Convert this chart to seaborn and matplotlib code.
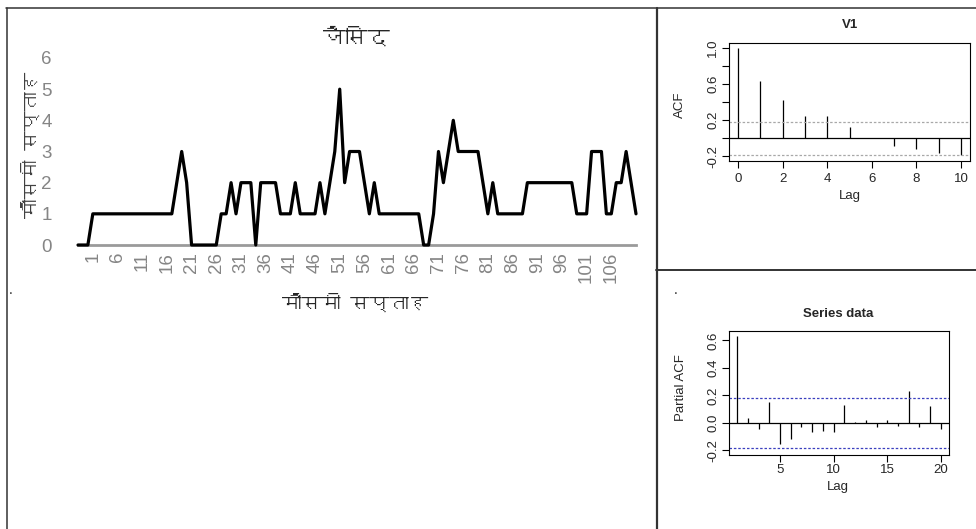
import numpy as np
import matplotlib
matplotlib.use("Agg")
import matplotlib.pyplot as plt
from matplotlib.lines import Line2D
from matplotlib import font_manager
from matplotlib.ft2font import FT2Font
import seaborn as sns

# Weekly jassid counts
jassid = [0, 0, 0,
          1, 1, 1, 1, 1, 1, 1, 1, 1, 1, 1, 1, 1, 1, 1, 1, 1,
          2, 3, 2,
          0, 0, 0, 0, 0, 0,
          1, 1, 2, 1, 2, 2, 2, 0, 2, 2, 2, 2, 1, 1, 1, 2, 1, 1, 1, 1, 2, 1,
          2, 3, 5, 2, 3, 3, 3, 2, 1, 2,
          1, 1, 1, 1, 1, 1, 1, 1, 1,
          0, 0, 1, 3, 2, 3, 4, 3, 3, 3, 3, 3, 2, 1, 2,
          1, 1, 1, 1, 1, 1,
          2, 2, 2, 2, 2, 2, 2, 2, 2, 2,
          1, 1, 1, 3, 3, 3, 1, 1, 2, 2, 3, 2, 1]
first_week = -2
week_ticks = list(range(1, 107, 5))
y_ticks = [0, 1, 2, 3, 4, 5, 6]

acf_lags = [0, 1, 2, 3, 4, 5, 6, 7, 8, 9, 10]
acf_vals = [1.0, 0.63, 0.425, 0.25, 0.245, 0.125, 0.0, -0.085, -0.117, -0.158, -0.187]
pacf_lags = list(range(1, 21))
pacf_vals = [0.63, 0.036, -0.044, 0.153, -0.15, -0.116, -0.03, -0.065, -0.056, -0.063,
             0.128, 0.007, 0.02, -0.029, 0.022, -0.019, 0.235, -0.03, 0.121, -0.044]
conf_limit = 0.183

title_text = "जैसिद"
axis_text = "मौसमी सप्ताह"


def devanagari_family():
    seen = set()
    for fe in font_manager.fontManager.ttflist:
        if fe.fname in seen:
            continue
        seen.add(fe.fname)
        try:
            cmap = FT2Font(fe.fname).get_charmap()
        except Exception:
            continue
        if 0x091C in cmap and 0x0948 in cmap and 0x0938 in cmap:
            return fe.name
    return "DejaVu Sans"


sns.set_theme(style="white")
hindi = devanagari_family()
plt.rcParams["font.family"] = ["Liberation Sans", "DejaVu Sans"]

W, H = 976, 529
fig = plt.figure(figsize=(W / 100, H / 100), dpi=100)
fig.patch.set_facecolor("white")


def rect(x0, y0, x1, y1):
    return [x0 / W, 1 - y1 / H, (x1 - x0) / W, (y1 - y0) / H]


def ftext(x, y, s, **kw):
    fig.text(x / W, 1 - y / H, s, **kw)


# ---- main weekly line chart ----
weeks = np.arange(len(jassid)) + first_week
ax = fig.add_axes(rect(78, 58, 636, 245))
sns.lineplot(x=weeks, y=jassid, ax=ax, color="black", linewidth=2.3,
             estimator=None, sort=False, zorder=3, clip_on=False)
ax.set_xlim(weeks[0], weeks[-1])
ax.set_ylim(0, 6)
for side in ["top", "right", "left"]:
    ax.spines[side].set_visible(False)
ax.spines["bottom"].set_color("#9a9a9a")
ax.spines["bottom"].set_linewidth(2.0)
ax.set_yticks(y_ticks)
ax.set_yticklabels([str(v) for v in y_ticks], color="#858585", fontsize=13.5)
ax.set_xticks(week_ticks)
ax.set_xticklabels([str(v) for v in week_ticks], rotation=90, color="#858585",
                   fontsize=13.5)
ax.tick_params(axis="y", length=0, pad=19)
ax.tick_params(axis="x", length=0, pad=5)
ax.set_xlabel("")
ax.set_ylabel("")
ax.grid(False)

ftext(356, 38, title_text, ha="center", va="center", fontsize=16,
      fontweight="bold", family=[hindi, "DejaVu Sans"])
ftext(355, 302, axis_text, ha="center", va="center", fontsize=14,
      family=[hindi, "DejaVu Sans"])
ftext(30, 145, axis_text, ha="center", va="center", fontsize=14,
      rotation=90, color="#404040", family=[hindi, "DejaVu Sans"])


def r_style(a, xpad):
    for s in a.spines.values():
        s.set_color("black")
        s.set_linewidth(0.8)
    a.tick_params(direction="out", length=5, width=0.8, color="black",
                  labelsize=9.5, pad=2, bottom=True, left=True)
    a.tick_params(axis="x", pad=xpad)
    a.grid(False)
    for lab in a.get_yticklabels():
        lab.set_rotation(90)
        lab.set_va("center")


# ---- ACF panel ----
ax2 = fig.add_axes(rect(729, 42.7, 970, 160.7))
ax2.vlines(acf_lags, 0, acf_vals, color="black", linewidth=0.9)
ax2.axhline(0, color="black", linewidth=0.9)
for c in (conf_limit, -conf_limit):
    ax2.axhline(c, color="#a8a8a8", linewidth=0.9, linestyle=(0, (2, 1.5)))
ax2.set_xlim(-0.4, 10.4)
ax2.set_ylim(-0.247, 1.053)
ax2.set_xticks([0, 2, 4, 6, 8, 10])
ax2.set_yticks([-0.2, 0.0, 0.2, 0.4, 0.6, 0.8, 1.0])
ax2.set_yticklabels(["-0.2", "", "0.2", "", "0.6", "", "1.0"])
r_style(ax2, 4)
ftext(850, 25, "V1", ha="center", va="center", fontsize=9.5, fontweight="bold")
ftext(680, 105, "ACF", ha="center", va="center", fontsize=9.5, rotation=90)
ftext(850, 196, "Lag", ha="center", va="center", fontsize=9.5)

# ---- PACF panel ----
ax3 = fig.add_axes(rect(729, 330.7, 949, 455.3))
ax3.vlines(pacf_lags, 0, pacf_vals, color="black", linewidth=0.9)
ax3.axhline(0, color="black", linewidth=0.9)
for c in (conf_limit, -conf_limit):
    ax3.axhline(c, color="#3a3fbf", linewidth=0.9, linestyle=(0, (2, 1.5)))
ax3.set_xlim(0.24, 20.76)
ax3.set_ylim(-0.235, 0.671)
ax3.set_xticks([5, 10, 15, 20])
ax3.set_yticks([-0.2, 0.0, 0.2, 0.4, 0.6])
ax3.set_yticklabels(["-0.2", "0.0", "0.2", "0.4", "0.6"])
r_style(ax3, 1)
ftext(838, 314, "Series data", ha="center", va="center", fontsize=9.5,
      fontweight="bold")
ftext(681, 388, "Partial ACF", ha="center", va="center", fontsize=9.5,
      rotation=90)
ftext(838, 487, "Lag", ha="center", va="center", fontsize=9.5)

# ---- cell borders ----
def border(x0, y0, x1, y1, lw=1.1, color="#333333"):
    fig.add_artist(Line2D([x0 / W, x1 / W], [1 - y0 / H, 1 - y1 / H],
                          transform=fig.transFigure, color=color, linewidth=lw))


border(6, 7.5, 976, 7.5)
border(7, 7.5, 7, 529)
border(656.5, 7.5, 656.5, 529, lw=1.6)
border(656, 270, 976, 270, lw=1.4)

ftext(11, 290, ".", ha="center", va="center", fontsize=10)
ftext(676, 290, ".", ha="center", va="center", fontsize=10)

fig.savefig("out.png", dpi=100)
